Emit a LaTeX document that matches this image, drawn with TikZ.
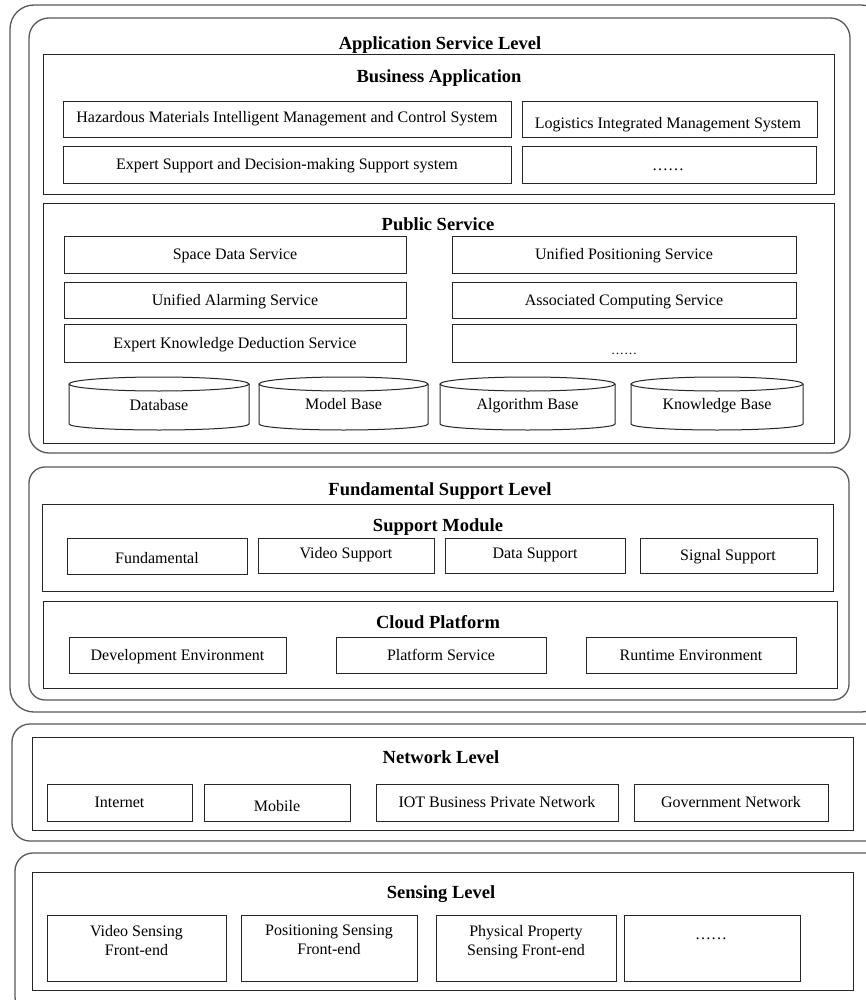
\documentclass[tikz,border=0pt]{standalone}
\usepackage{fontspec}
\setmainfont{Liberation Serif}
\tikzset{
  x=1pt,y=-1pt,
  layer/.style={draw=black!65, line width=1.3pt, rounded corners=20pt},
  frame/.style={draw=black!85, line width=1pt},
  box/.style={draw=black!85, line width=1pt, inner sep=0pt, outer sep=0pt},
  txt/.style={font=\fontsize{16}{19}\selectfont, inner sep=0pt, align=center, anchor=base},
  ttl/.style={font=\fontsize{18.5}{22}\selectfont\bfseries, inner sep=0pt, anchor=base},
  cyl/.style={draw=black!85, line width=1pt, fill=white},
}
% name, x1, y1, x2, y2
\newcommand\mybox[5]{%
  \node[box, minimum width={(#4-#2)*1pt}, minimum height={(#5-#3)*1pt}]
    (#1) at ({(#2+#4)/2},{(#3+#5)/2}) {};}
% name, x1, x2, baseline, text
\newcommand\mycyl[5]{%
  \draw[cyl] (#2,384) -- (#2,424) arc[start angle=180, end angle=0, x radius={(#3-#2)/2}, y radius=6] -- (#3,384);
  \draw[cyl] ({(#2+#3)/2},384) ellipse[x radius={(#3-#2)/2}, y radius=7];
  \node[txt] (#1) at ({(#2+#3)/2},#4) {#5};}
\begin{document}
\begin{tikzpicture}
\useasboundingbox (0,0) rectangle (866,1000);
\clip (0,0) rectangle (866,1000);
\fill[white] (0,0) rectangle (866,1000);

% layers
\draw[layer, rounded corners=24pt] (10,5) rectangle (885,712);
\draw[layer] (29,18) rectangle (850,453);
\draw[layer, rounded corners=16pt] (29,467) rectangle (849,700);
\draw[layer, rounded corners=18pt] (12,724) rectangle (890,841);
\draw[layer, rounded corners=18pt] (15,853) rectangle (890,1015);

\node[ttl] (asl) at (440,50) {Application Service Level};

% Business application
\draw[frame] (43,55) rectangle (834,195);
\node[ttl] (ba) at (439,83) {Business Application};
\mybox{hm}{63}{102}{511}{138}
\node[txt] at (287,123) {Hazardous Materials Intelligent Management and Control System};
\mybox{lim}{522}{102}{817}{138}
\node[txt] at (668,129) {Logistics Integrated Management System};
\mybox{es}{63}{147}{511}{184}
\node[txt] at (287,170) {Expert Support and Decision-making Support system};
\mybox{bd}{522}{147}{816}{184}
\node[txt] at (668,171) {……};

% Public service
\draw[frame] (43,204) rectangle (834,443);
\node[ttl] (ps) at (438,230) {Public Service};
\mybox{sds}{64}{237}{406}{273}
\node[txt] at (235,259) {Space Data Service};
\mybox{ups}{452}{237}{796}{273}
\node[txt] at (624,259) {Unified Positioning Service};
\mybox{uas}{64}{282}{406}{318}
\node[txt] at (235,305) {Unified Alarming Service};
\mybox{acs}{452}{282}{796}{318}
\node[txt] at (624,305) {Associated Computing Service};
\mybox{ekd}{64}{324}{406}{362}
\node[txt] at (235,348) {Expert Knowledge Deduction Service};
\mybox{pd}{452}{324}{796}{362}
\node[txt, font=\fontsize{13}{16}\selectfont] at (624,354) {……};

\mycyl{db}{69}{249}{410}{Database}
\mycyl{mb}{259}{428}{409}{Model Base}
\mycyl{ab}{440}{615}{409}{Algorithm Base}
\mycyl{kb}{631}{803}{409}{Knowledge Base}

% Fundamental support level
\node[ttl] (fsl) at (440,495) {Fundamental Support Level};
\draw[frame] (42,504) rectangle (833,591);
\node[ttl] (sm) at (438,531) {Support Module};
\mybox{fu}{67}{538}{247}{574}
\node[txt] at (157,563) {Fundamental};
\mybox{vs}{258}{538}{434}{573}
\node[txt] at (346,558) {Video Support};
\mybox{dsu}{445}{538}{625}{573}
\node[txt] at (535,558) {Data Support};
\mybox{ss}{640}{538}{817}{573}
\node[txt] at (728,560) {Signal Support};

\draw[frame] (43,601) rectangle (837,688);
\node[ttl] (cp) at (438,628) {Cloud Platform};
\mybox{de}{69}{637}{286}{673}
\node[txt] at (177.5,660) {Development Environment};
\mybox{pls}{336}{637}{546}{673}
\node[txt] at (441,660) {Platform Service};
\mybox{re}{586}{637}{796}{673}
\node[txt] at (691,660) {Runtime Environment};

% Network level
\draw[frame] (32,737) rectangle (853,830);
\node[ttl] (nl) at (441,763) {Network Level};
\mybox{in}{47}{784}{192}{821}
\node[txt] at (119.5,807) {Internet};
\mybox{mo}{204}{784}{350}{821}
\node[txt] at (277,811) {Mobile};
\mybox{iot}{376}{784}{618}{821}
\node[txt] at (497,807) {IOT Business Private Network};
\mybox{gn}{634}{784}{828}{821}
\node[txt] at (731,807) {Government Network};

% Sensing level
\draw[frame] (32,872) rectangle (853,990);
\node[ttl] (sl) at (441,898) {Sensing Level};
\mybox{vsf}{47}{915}{226}{981}
\node[txt, anchor=north] at (136.5,925) {Video Sensing\\Front-end};
\mybox{psf}{241}{915}{417}{981}
\node[txt, anchor=north] at (329,925) {Positioning Sensing\\Front-end};
\mybox{ppf}{436}{915}{616}{981}
\node[txt, anchor=north] at (526,925) {Physical Property\\Sensing Front-end};
\mybox{sd}{624}{915}{800}{981}
\node[txt] at (711,939) {……};
\end{tikzpicture}
\end{document}
